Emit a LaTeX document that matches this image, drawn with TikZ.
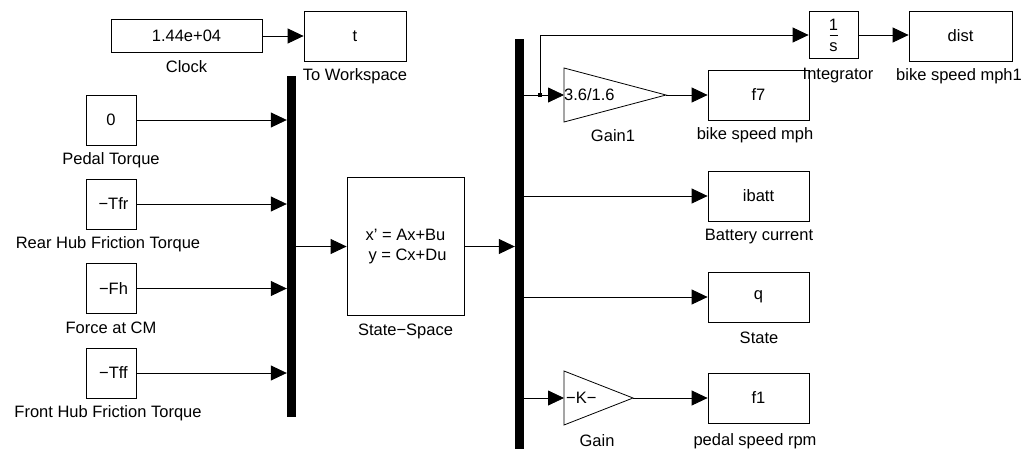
\documentclass[tikz,border=0pt]{standalone}
\usepackage{fontspec}
\setmainfont{Liberation Sans}
\usetikzlibrary{arrows.meta}
\newcommand{\fs}{\fontsize{16.5}{19.5}\selectfont}
\tikzset{
  blk/.style={draw, line width=0.8pt, inner sep=0pt, font=\fs, align=center},
  busbar/.style={fill=black, draw=none, inner sep=0pt, minimum width=9pt},
  lbl/.style={font=\fs, inner sep=0pt},
  wire/.style={line width=0.8pt},
  arr/.style={wire, -{Triangle[length=16pt,width=15pt]}},
}
\begin{document}
\begin{tikzpicture}[x=1pt,y=-1pt]
\useasboundingbox (0,0) rectangle (1024,450);

% clock and workspace
\node[blk, minimum width=151pt, minimum height=33pt] (clock) at (186.5,36) {1.44e+04};
\node[lbl] (clockL) at (186.5,67) {Clock};
\node[blk, minimum width=102pt, minimum height=50pt] (tows) at (355,36) {t};
\node[lbl] (towsL) at (355,76) {To Workspace};
\draw[arr] (clock.east) -- (clock.east -| tows.west);

% input constants
\node[blk, minimum width=50pt, minimum height=50pt] (p0) at (111,120) {0};
\node[lbl] (p0L) at (111,160) {Pedal Torque};
\node[blk, minimum width=50pt, minimum height=50pt] (tfr) at (111,204) {\hspace*{5pt}−Tfr};
\node[lbl] (tfrL) at (108,244) {Rear Hub Friction Torque};
\node[blk, minimum width=50pt, minimum height=50pt] (fh) at (111,288.5) {\hspace*{5pt}−Fh};
\node[lbl] (fhL) at (111,328) {Force at CM};
\node[blk, minimum width=50pt, minimum height=50pt] (tff) at (111,373) {\hspace*{5pt}−Tff};
\node[lbl] (tffL) at (108,413) {Front Hub Friction Torque};

% input mux
\node[busbar, minimum height=341pt] (busL) at (291.5,246.5) {};
\foreach \s in {p0,tfr,fh,tff}
  \draw[arr] (\s.east) -- (\s.east -| busL.west);

% plant
\node[blk, minimum width=117pt, minimum height=138pt] (ss) at (405.5,246.5)
  {x’ = Ax+Bu\\[1pt] \hspace*{4pt}y = Cx+Du};
\node[lbl] (ssL) at (405.5,331) {State−Space};
\draw[arr] (busL.east |- ss.west) -- (ss.west);

% output demux
\node[busbar, minimum height=410pt] (busR) at (519.5,244) {};
\draw[arr] (ss.east) -- (ss.east -| busR.west);

% speed branch
\node[fill=black, inner sep=0pt, minimum size=4pt] (jn) at (540,95) {};
\coordinate (g1in) at (564,95);
\coordinate (g1out) at (666,95);
\draw[wire] (564,68) -- (g1out) -- (564,122) -- cycle;
\node[lbl, anchor=west] (g1T) at (564,95) {3.6/1.6};
\node[lbl] (g1L) at (613,136) {Gain1};
\node[blk, minimum width=101pt, minimum height=50pt] (f7) at (758.5,95) {f7};
\node[lbl] (f7L) at (755,135) {bike speed mph};
\draw[wire] (busR.east |- jn) -- (jn.center);
\draw[arr] (jn.center) -- (g1in);
\draw[arr] (g1out) -- (f7.west);

% integrator and distance
\node[draw, line width=0.8pt, minimum width=49pt, minimum height=47pt, inner sep=0pt] (integ) at (833.5,35) {};
\node[lbl] (intN) at (833.5,25) {1};
\draw[wire] (829.5,35.5) -- (838,35.5);
\node[lbl] (intD) at (833.5,47) {s};
\node[lbl] (integL) at (838,76) {Integrator};
\node[blk, minimum width=103pt, minimum height=50pt] (dist) at (960.5,36) {dist};
\node[lbl] (distL) at (959,76) {bike speed mph1};
\draw[arr] (jn.center) |- (integ.west);
\draw[arr] (integ.east) -- (integ.east -| dist.west);

% battery current and state
\node[blk, minimum width=101pt, minimum height=50pt] (ibatt) at (758.5,196) {ibatt};
\node[lbl] (ibattL) at (759,237) {Battery current};
\draw[arr] (busR.east |- ibatt.west) -- (ibatt.west);
\node[blk, minimum width=101pt, minimum height=50pt] (q) at (758.5,297) {q};
\node[lbl] (qL) at (759,338) {State};
\draw[arr] (busR.east |- q.west) -- (q.west);

% pedal speed branch
\coordinate (gin) at (564,398);
\coordinate (gout) at (633,398);
\draw[wire] (564,371) -- (gout) -- (564,425) -- cycle;
\node[lbl, anchor=west] (gT) at (566,398) {−K−};
\node[lbl] (gL) at (597,441) {Gain};
\node[blk, minimum width=101pt, minimum height=50pt] (f1) at (758.5,398) {f1};
\node[lbl] (f1L) at (755,441) {pedal speed rpm};
\draw[arr] (busR.east |- gin) -- (gin);
\draw[arr] (gout) -- (f1.west);
\end{tikzpicture}
\end{document}
